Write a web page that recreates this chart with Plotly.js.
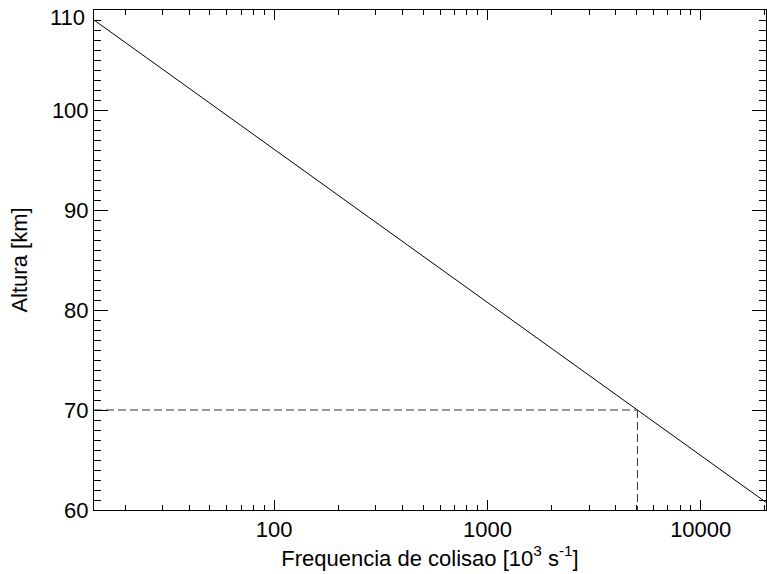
<!DOCTYPE html>
<html>
<head>
<meta charset="utf-8">
<script src="https://cdn.plot.ly/plotly-3.0.1.min.js"></script>
<style>html,body{margin:0;padding:0;background:#fff;}#chart{width:767px;height:574px;}</style>
</head>
<body>
<div id="chart"></div>
<script>
// Collision frequency profile
var heights = [60, 70, 80, 90, 100, 110];
var frequencies = [22700, 5050, 1120, 249, 55.2, 12.3];

// Reference point marked with dashed lines
var refHeight = 70;
var refFrequency = 5050;

// Axis extents
var xMin = 14.3, xMax = 20230;
var yMin = 60, yMax = 110;

var topLabel = '110';

var traces = [
  {x: frequencies, y: heights, mode: 'lines', type: 'scatter',
   line: {color: '#000', width: 1}, hoverinfo: 'skip'},
  {x: [xMin, refFrequency], y: [refHeight, refHeight], mode: 'lines', type: 'scatter',
   line: {color: '#333', width: 1, dash: '8px,4px'}, hoverinfo: 'skip'},
  {x: [refFrequency, refFrequency], y: [refHeight, yMin], mode: 'lines', type: 'scatter',
   line: {color: '#333', width: 1, dash: '8px,4px'}, hoverinfo: 'skip'}
];

var layout = {
  width: 767, height: 574,
  margin: {l: 94, r: 1, t: 10, b: 64},
  paper_bgcolor: '#fff', plot_bgcolor: '#fff',
  showlegend: false,
  font: {family: '"Liberation Sans", Arial, sans-serif', size: 22, color: '#000'},
  xaxis: {
    type: 'log',
    range: [Math.log10(xMin), Math.log10(xMax)],
    dtick: 1, tickformat: 'd',
    ticks: 'inside', ticklen: 10, tickcolor: '#000', tickwidth: 1,
    showline: true, linecolor: '#000', linewidth: 1, mirror: 'allticks',
    showgrid: false, zeroline: false,
    minor: {ticks: 'inside', ticklen: 5, tickcolor: '#000', dtick: 'D1', showgrid: false},
    tickfont: {size: 22},
    title: {text: 'Frequencia de colisao [10<sup>3</sup> s<sup>-1</sup>]', font: {size: 22}, standoff: 2}
  },
  yaxis: {
    range: [yMin, yMax],
    tick0: 60, dtick: 10,
    ticks: 'inside', ticklen: 14, tickcolor: '#000', tickwidth: 1,
    showline: true, linecolor: '#000', linewidth: 1, mirror: 'allticks',
    showgrid: false, zeroline: false,
    minor: {ticks: 'inside', ticklen: 7, tickcolor: '#000', tick0: 60, dtick: 1, showgrid: false},
    tickfont: {size: 22},
    title: {text: 'Altura [km]', font: {size: 22}, standoff: 18}
  },
  annotations: [
    {xref: 'paper', yref: 'y', x: 0, y: yMax, text: topLabel, showarrow: false,
     xanchor: 'right', yanchor: 'middle', xshift: -7, yshift: -7,
     font: {size: 22, color: '#000'}}
  ]
};

Plotly.newPlot('chart', traces, layout, {staticPlot: true, displayModeBar: false});
</script>
</body>
</html>
